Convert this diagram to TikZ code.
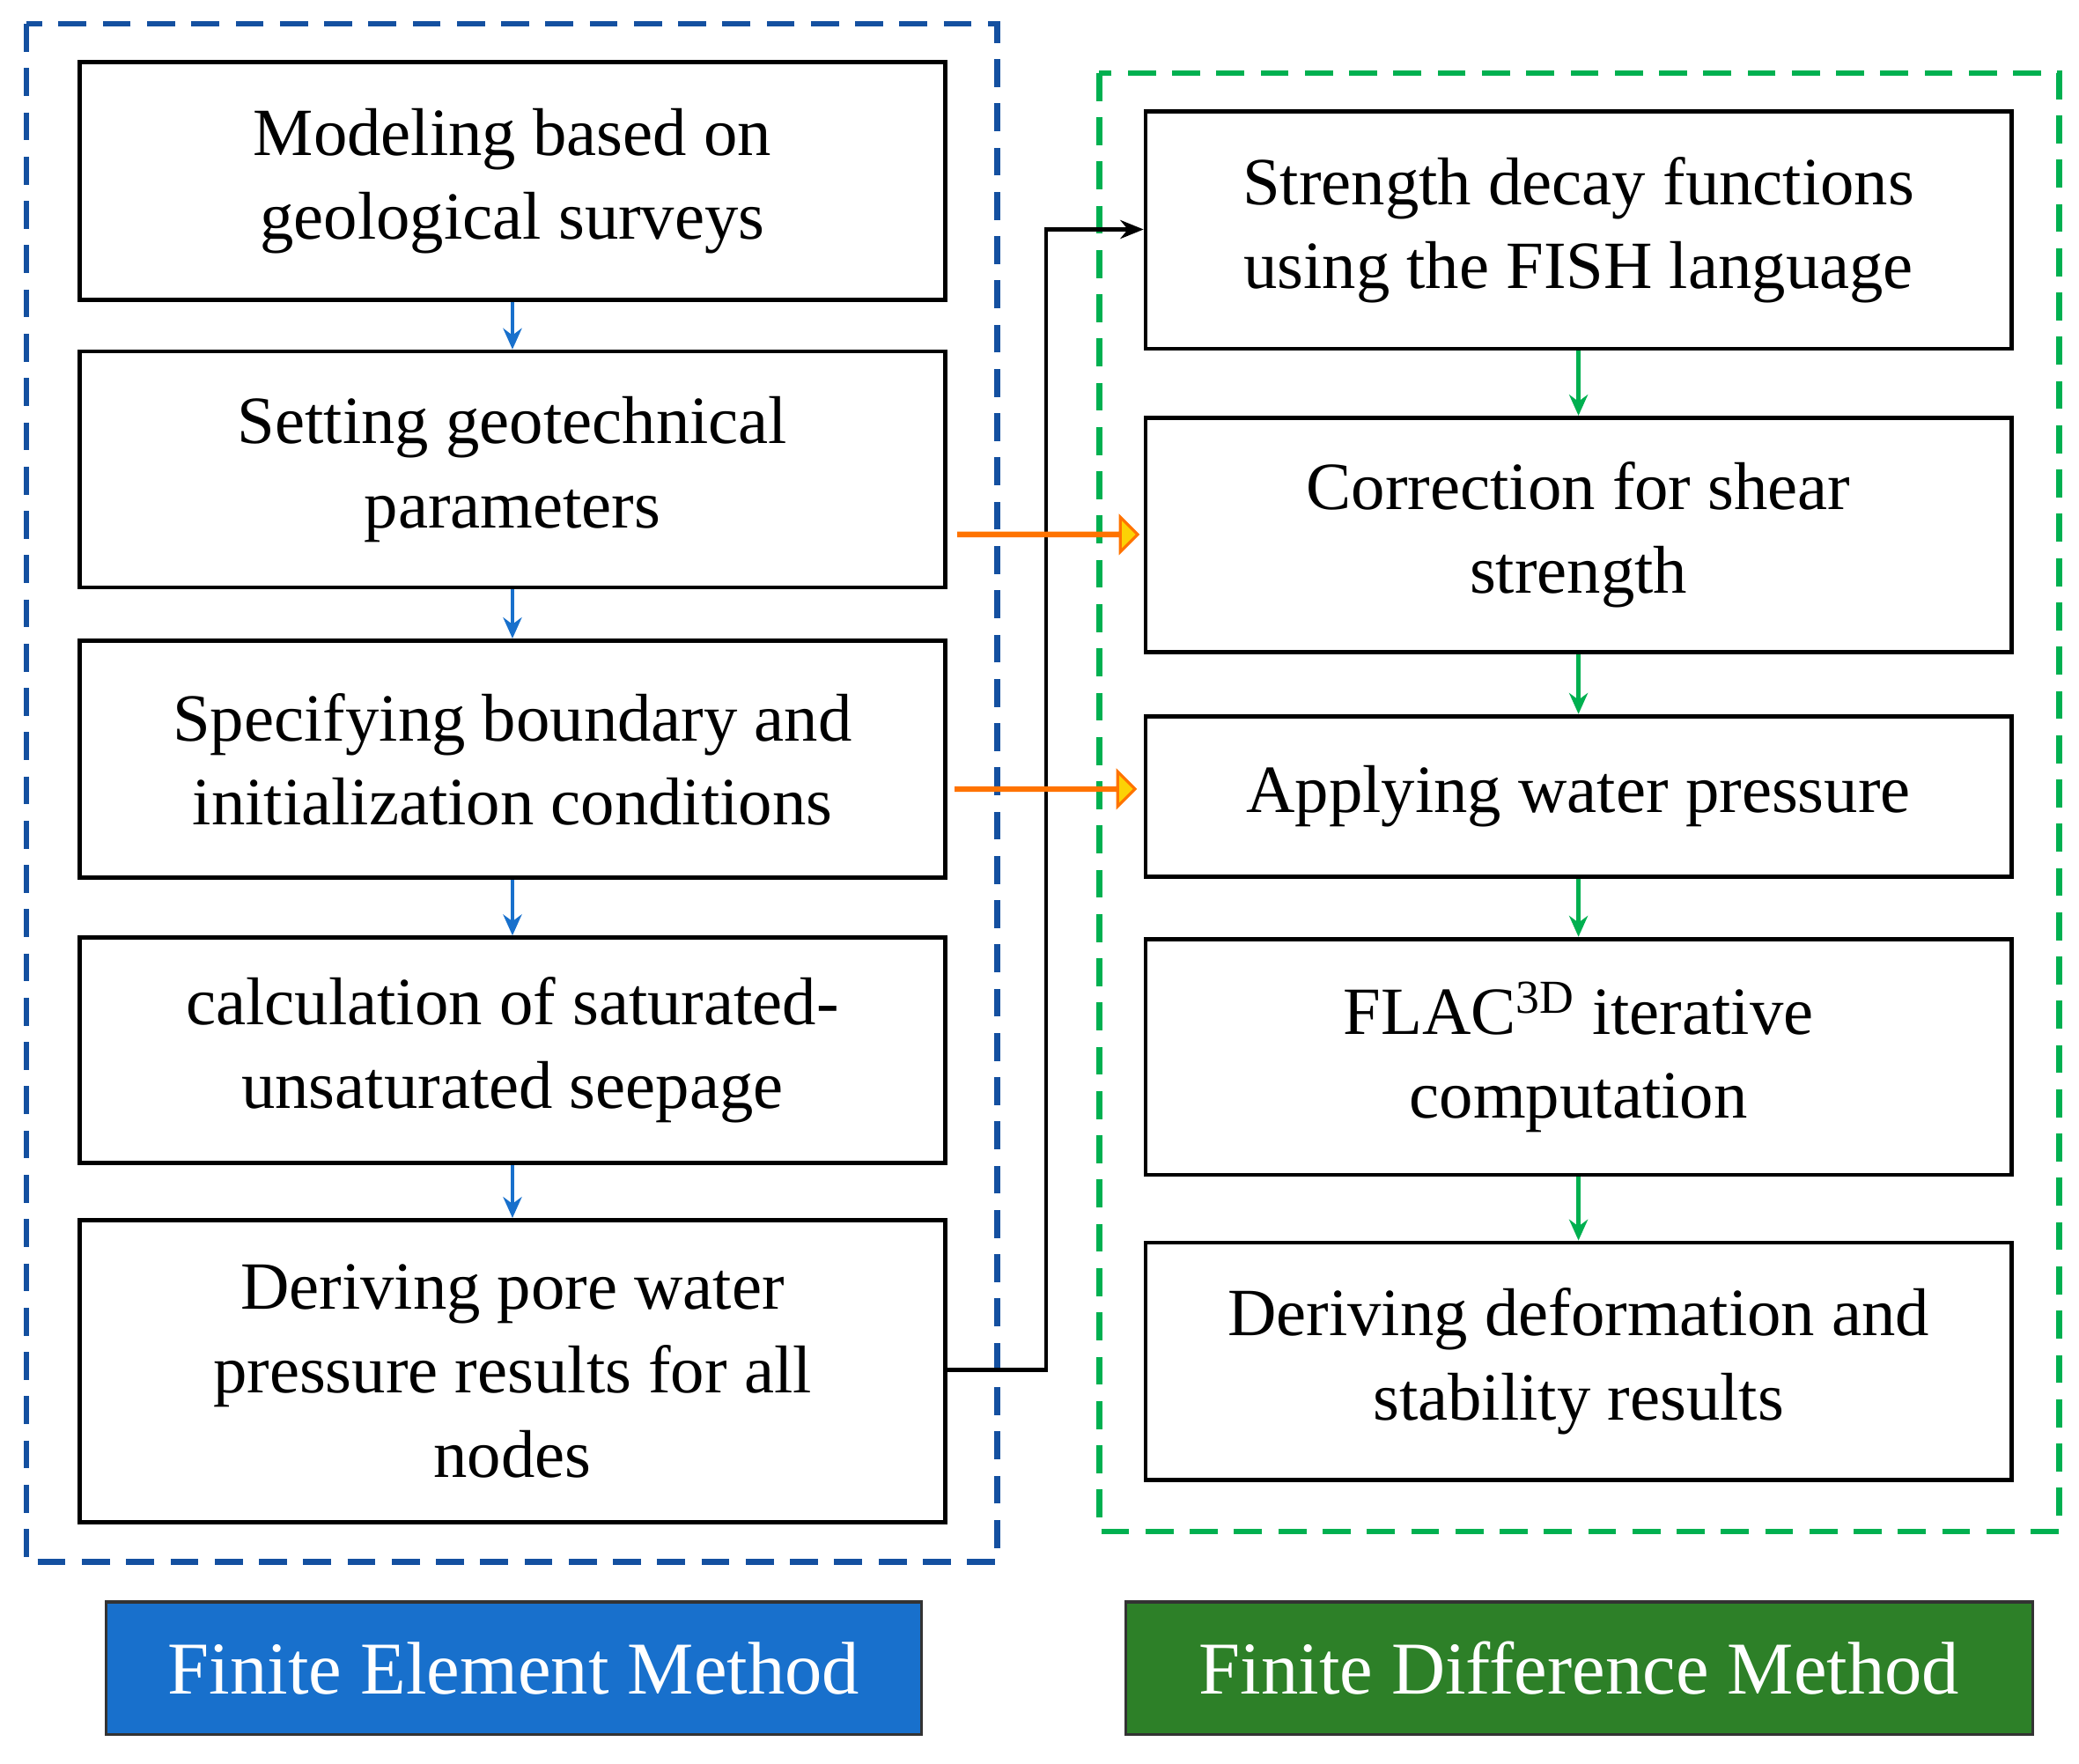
\documentclass[tikz,border=0pt]{standalone}
\usepackage{fontspec}
\setmainfont{Liberation Serif}
\usetikzlibrary{shapes.arrows,arrows.meta}
\definecolor{fblue}{RGB}{24,112,204}
\definecolor{dblue}{RGB}{20,80,160}
\definecolor{fgreen}{RGB}{0,176,80}
\definecolor{lgreen}{RGB}{45,128,40}
\begin{document}
\begin{tikzpicture}[x=0.02cm,y=-0.02cm,
  box/.style={draw,line width=1.8pt,align=center,font=\fontsize{29}{36}\selectfont},
  ba/.style={-{Stealth[length=9pt,width=8pt]},fblue,line width=1.6pt},
  ga/.style={-{Stealth[length=9pt,width=8pt]},fgreen,line width=1.6pt},
  fat/.style={single arrow,draw=orange!90!red,line width=1.2pt,fill=yellow!70!orange,minimum height=2.7cm,minimum width=0.28cm,single arrow head extend=0.24cm,single arrow head indent=0cm,inner sep=0pt},
  lab/.style={draw=black!80,line width=1.2pt,text=white,font=\fontsize{32}{38}\selectfont}]
\useasboundingbox (0,0) rectangle (1568,1330);
\draw[dblue,line width=2.5pt,dash pattern=on 12pt off 7pt] (20,18) rectangle (752,1178);
\draw[fgreen,line width=2.5pt,dash pattern=on 12pt off 7pt] (829,55) rectangle (1553,1155);
\path (60,47) rectangle (713,226) node[box,minimum width=13.06cm,minimum height=3.58cm,midway] (l1) {Modeling based on\\geological surveys};
\path (60,265) rectangle (713,443) node[box,minimum width=13.06cm,minimum height=3.56cm,midway] (l2) {Setting geotechnical\\parameters};
\path (60,483) rectangle (713,662) node[box,minimum width=13.06cm,minimum height=3.58cm,midway] (l3) {Specifying boundary and\\initialization conditions};
\path (60,707) rectangle (713,877) node[box,minimum width=13.06cm,minimum height=3.4cm,midway] (l4) {calculation of saturated-\\unsaturated seepage};
\path (60,920) rectangle (713,1148) node[box,minimum width=13.06cm,minimum height=4.56cm,midway] (l5) {Deriving pore water\\pressure results for all\\nodes};
\path (864,84) rectangle (1517,263) node[box,minimum width=13.06cm,minimum height=3.58cm,midway] (r1) {Strength decay functions\\using the FISH language};
\path (864,315) rectangle (1517,492) node[box,minimum width=13.06cm,minimum height=3.54cm,midway] (r2) {Correction for shear\\strength};
\path (864,540) rectangle (1517,661) node[box,minimum width=13.06cm,minimum height=2.42cm,midway] (r3) {Applying water pressure};
\path (864,708) rectangle (1517,886) node[box,minimum width=13.06cm,minimum height=3.56cm,midway] (r4) {FLAC\textsuperscript{3D} iterative\\computation};
\path (864,937) rectangle (1517,1116) node[box,minimum width=13.06cm,minimum height=3.58cm,midway] (r5) {Deriving deformation and\\stability results};
\draw[ba] (l1) -- (l2); \draw[ba] (l2) -- (l3); \draw[ba] (l3) -- (l4); \draw[ba] (l4) -- (l5);
\draw[ga] (r1) -- (r2); \draw[ga] (r2) -- (r3); \draw[ga] (r3) -- (r4); \draw[ga] (r4) -- (r5);
\coordinate (c1) at (789,1033); \coordinate (c2) at (789,173);
\draw[line width=1.6pt,-{Stealth[length=10pt,width=8pt]}] (l5.east |- c1) -- (c1) -- (c2) -- (r1.west |- c2);
\node[fat] (f1) at (790,403) {};
\node[fat] (f2) at (788,595) {};
\path (80,1208) rectangle (695,1308) node[lab,fill=fblue,minimum width=12.3cm,minimum height=2cm,midway] (t1) {Finite Element Method};
\path (849,1208) rectangle (1533,1308) node[lab,fill=lgreen,minimum width=13.68cm,minimum height=2cm,midway] (t2) {Finite Difference Method};
\end{tikzpicture}
\end{document}
